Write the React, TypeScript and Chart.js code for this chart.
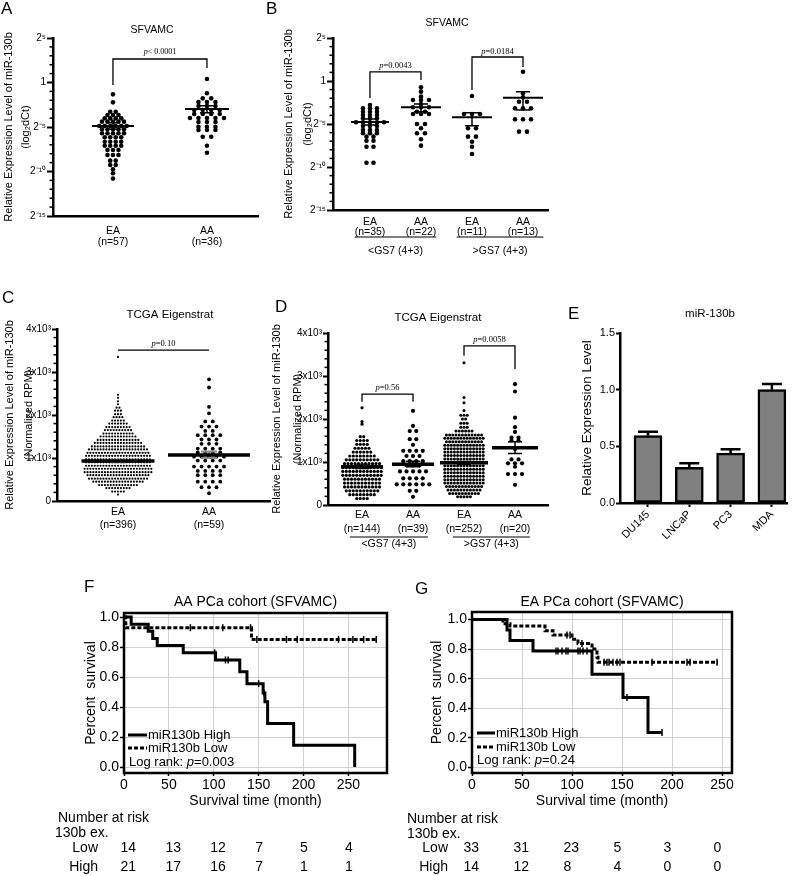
import React, { useEffect, useRef } from 'react';
import { Chart, registerables } from 'chart.js';

Chart.register(...registerables);

const SANS = '"Liberation Sans", Arial, Helvetica, sans-serif';
const SERIF = '"Liberation Serif", "Times New Roman", Times, serif';
Chart.defaults.font.family = SANS;
Chart.defaults.color = '#000';

// ---------------- shared tick labels ----------------
const log2TickValues = [-15, -10, -5, 0, 5];
const log2TickLabels = ['2⁻¹⁵', '2⁻¹⁰', '2⁻⁵', '1', '2⁵'];
const rpmTickValues = [0, 1000, 2000, 3000, 4000];
const rpmTickLabels = ['0', '1x10³', '2x10³', '3x10³', '4x10³'];
const eTickValues = [0, 0.5, 1.0, 1.5];
const kmSurvTicks = [0, 0.2, 0.4, 0.6, 0.8, 1.0];

// ---------------- Panel A : SFVAMC (log2 dCt) ----------------
const aCategories = [['EA', '(n=57)'], ['AA', '(n=36)']];
const aEAValues = [-1.33, -2.23, -3.28, -3.65, -4.03, -4.4, -4.89, -5.26, -5.71, -6.16, -6.65, -7.1, -7.58, -8.15, -8.78, -9.27, -9.75, -10.2, -10.8];
const aEACounts = [1, 1, 2, 3, 4, 5, 6, 5, 5, 4, 4, 4, 3, 3, 2, 2, 1, 1, 1];
const aAAValues = [0.39, -1.21, -1.78, -2.2, -2.64, -3.09, -3.54, -3.99, -4.44, -4.97, -5.34, -6.09, -7.1, -7.89];
const aAACounts = [1, 1, 2, 3, 3, 4, 4, 5, 3, 3, 3, 2, 1, 1];
const aMeans = [-4.89, -2.98];
const aSemHigh = [-4.51, -2.6];
const aSemLow = [-5.26, -3.39];

// ---------------- Panel B : SFVAMC by Gleason ----------------
const bCategories = [['EA', '(n=35)'], ['AA', '(n=22)'], ['EA', '(n=11)'], ['AA', '(n=13)']];
const bGleason = ['<GS7 (4+3)', '>GS7 (4+3)'];
const bEA1Values = [-2.79, -3.18, -3.57, -3.95, -4.34, -4.8, -5.23, -5.7, -6.08, -6.47, -6.94, -7.64, -9.5];
const bEA1Counts = [1, 3, 3, 3, 3, 5, 3, 3, 3, 2, 2, 2, 2];
const bAA1Values = [-0.74, -1.24, -1.82, -2.21, -2.67, -3.06, -3.57, -3.84, -5.0, -5.5, -6.08, -6.78, -7.52];
const bAA1Counts = [1, 1, 1, 3, 1, 3, 2, 3, 2, 1, 2, 1, 1];
const bEA2Values = [-1.74, -3.84, -5.5, -6.47, -7.06, -7.64, -8.49];
const bEA2Counts = [1, 3, 2, 2, 1, 1, 1];
const bAA2Values = [1.08, -1.43, -1.9, -2.41, -3.18, -4.46, -5.89];
const bAA2Counts = [1, 1, 1, 2, 3, 3, 2];
const bMeans = [-4.76, -3.06, -4.22, -1.94];
const bSemHigh = [-4.42, -2.67, -3.68, -1.24];
const bSemLow = [-5.12, -3.57, -5.2, -3.37];

// ---------------- Panel C : TCGA (normalized RPM) ----------------
const cCategories = [['EA', '(n=396)'], ['AA', '(n=59)']];
const cEAValues = [150, 220, 300, 370, 450, 520, 600, 670, 750, 820, 900, 970, 1050, 1120, 1200, 1270, 1350, 1420, 1500, 1570, 1650, 1720, 1800, 1870, 1950, 2020, 2100, 2170, 2250, 2320, 2400, 2470, 3350];
const cEACounts = [1, 5, 9, 14, 18, 21, 22, 24, 24, 23, 23, 23, 23, 22, 21, 19, 17, 15, 13, 11, 10, 9, 7, 5, 4, 3, 3, 2, 1, 1, 1, 1, 1];
const cAAValues = [2830, 2640, 2190, 2040, 1850, 1730, 1630, 1530, 1430, 1330, 1220, 1130, 1030, 940, 800, 700, 600, 450, 320, 180];
const cAACounts = [1, 1, 1, 1, 2, 3, 2, 4, 3, 3, 4, 4, 5, 4, 5, 4, 4, 4, 3, 1];
const cMeans = [930, 1070];
const cSemHigh = [960, 1150];
const cSemLow = [900, 1000];

// ---------------- Panel D : TCGA by Gleason ----------------
const dCategories = [['EA', '(n=144)'], ['AA', '(n=39)'], ['EA', '(n=252)'], ['AA', '(n=20)']];
const dGleason = ['<GS7 (4+3)', '>GS7 (4+3)'];
const dEA1Values = [2260, 1940, 1880, 1590, 1500, 1410, 1320, 1230, 1140, 1050, 960, 870, 780, 690, 600, 510, 420, 330, 240, 150];
const dEA1Counts = [1, 1, 1, 2, 4, 4, 5, 6, 8, 10, 11, 12, 12, 12, 11, 11, 11, 10, 8, 4];
const dAA1Values = [2190, 1840, 1720, 1530, 1400, 1260, 1140, 1020, 920, 780, 620, 480, 330, 190];
const dAA1Counts = [1, 1, 2, 2, 1, 4, 3, 4, 3, 5, 4, 6, 2, 1];
const dEA2Values = [3310, 2500, 2380, 2200, 2090, 2000, 1900, 1810, 1720, 1630, 1550, 1470, 1390, 1310, 1230, 1150, 1070, 990, 910, 830, 750, 670, 590, 510, 430, 350, 270, 190];
const dEA2Counts = [1, 1, 1, 1, 3, 2, 3, 3, 6, 12, 13, 12, 13, 13, 13, 13, 13, 13, 13, 13, 13, 13, 13, 13, 12, 11, 10, 5];
const dAA2Values = [2810, 2640, 2030, 1810, 1700, 1570, 1500, 1300, 1060, 970, 890, 720, 470];
const dAA2Counts = [1, 1, 1, 1, 1, 2, 2, 1, 2, 3, 1, 3, 1];
const dMeans = [890, 950, 980, 1330];
const dSemHigh = [930, 1020, 1010, 1470];
const dSemLow = [850, 890, 950, 1200];

// ---------------- Panel E : cell lines ----------------
const eCells = ['DU145', 'LNCaP', 'PC3', 'MDA'];
const eValues = [0.594, 0.315, 0.44, 1.0];
const eErrors = [0.035, 0.035, 0.035, 0.05];

// ---------------- Panel F : AA KM ----------------
const fHighTimes = [0, 8, 27, 32, 37, 66, 102, 129, 137, 155, 157, 160, 189, 257];
const fHighSurv = [1, 0.952, 0.905, 0.857, 0.81, 0.762, 0.714, 0.635, 0.556, 0.494, 0.435, 0.29, 0.145, 0];
const fHighCensor = [101, 113, 116, 150, 156];
const fLowTimes = [0, 2, 142, 281];
const fLowSurv = [1, 0.929, 0.851, 0.851];
const fLowCensor = [74, 110, 141, 148, 181, 193, 239, 255, 267, 281];
const fRiskTimes = [0, 50, 100, 150, 200, 250];
const fRiskLow = [14, 13, 12, 7, 5, 4];
const fRiskHigh = [21, 17, 16, 7, 1, 1];

// ---------------- Panel G : EA KM ----------------
const gHighTimes = [0, 35, 38, 61, 120, 151, 176, 190];
const gHighSurv = [1, 0.929, 0.857, 0.786, 0.63, 0.472, 0.236, 0.236];
const gHighCensor = [84, 86, 90, 94, 96, 106, 108, 111, 115, 155, 190];
const gLowTimes = [0, 31, 38, 73, 81, 100, 106, 120, 125, 126, 246];
const gLowSurv = [1, 0.97, 0.955, 0.924, 0.895, 0.866, 0.838, 0.8, 0.745, 0.71, 0.71];
const gLowCensor = [95, 98, 110, 132, 135, 137, 141, 145, 148, 180, 215, 218, 245];
const gRiskTimes = [0, 50, 100, 150, 200, 250];
const gRiskLow = [33, 31, 23, 5, 3, 0];
const gRiskHigh = [14, 12, 8, 4, 0, 0];

// ---------------- helpers ----------------
function expandRows(values: number[], counts: number[], pos: number, dx: number) {
  const pts: { x: number; y: number }[] = [];
  values.forEach((v, r) => {
    const n = counts[r];
    for (let i = 0; i < n; i++) pts.push({ x: pos + (i - (n - 1) / 2) * dx, y: v });
  });
  return pts;
}

function survAt(times: number[], surv: number[], t: number) {
  let s = surv[0];
  for (let i = 0; i < times.length; i++) if (times[i] <= t) s = surv[i];
  return s;
}

function text(ctx: any, str: string, x: number, y: number, size: number, align = 'left', family = SANS, style = '') {
  ctx.font = `${style} ${size}px ${family}`.trim();
  ctx.textAlign = align;
  ctx.textBaseline = 'middle';
  ctx.fillStyle = '#000';
  ctx.fillText(str, x, y);
}

function pText(ctx: any, rest: string, cx: number, cy: number, size: number) {
  ctx.font = `italic ${size}px ${SERIF}`;
  const w1 = ctx.measureText('p').width;
  ctx.font = `${size}px ${SERIF}`;
  const w2 = ctx.measureText(rest).width;
  const x0 = cx - (w1 + w2) / 2;
  text(ctx, 'p', x0, cy, size, 'left', SERIF, 'italic');
  text(ctx, rest, x0 + w1, cy, size, 'left', SERIF);
}

function zeroPad(s: any) {
  s.paddingLeft = 0; s.paddingRight = 0; s.paddingTop = 0; s.paddingBottom = 0;
}

// ---------------- panel specs ----------------
const mkGroups = (cats: string[][], vals: number[][], cnts: number[][], means: number[], hi: number[], lo: number[], spacing: number[], radius: number[], half: number[]) =>
  cats.map((label, i) => ({ label, pos: i, values: vals[i], counts: cnts[i], mean: means[i], hi: hi[i], lo: lo[i], spacing: spacing[i], radius: radius[i], half: half[i] }));

const panelA = {
  rect: [0, 0, 265, 252], area: { l: 53, t: 38, r: 258, b: 216 },
  xMin: -0.638, xMax: 1.543, yMin: -15, yMax: 5,
  yTicks: log2TickValues, yTickLabels: log2TickLabels, yTickSize: 10, majorTickLen: 6, minorStep: 1,
  yTitle: ['Relative Expression Level of miR-130b', '(log₂dCt)'], yTitleSize: 11, yTitleLH: 16.5, yTitlePad: 1,
  xLabelSize: 10.5, xLabelLH: 11, xLabelPad: 9.8, axisW: 2.5,
  groups: mkGroups(aCategories, [aEAValues, aAAValues], [aEACounts, aAACounts], aMeans, aSemHigh, aSemLow, [5.5, 8.5], [2.3, 2.3], [21, 22]),
  meanLW: 2, semColor: '#000', semLW: 1.5, capHalf: 7, pSize: 8,
  letter: { text: 'A', x: 1, y: 9 }, title: { text: 'SFVAMC', x: 152, y: 30, size: 10.5 },
  brackets: [{ x1: 0, x2: 1, top: 2.64, left: -0.28, right: 1.63, label: '< 0.0001', labelY: 3.43 }],
  gleason: [] as any[],
};

const panelB = {
  rect: [265, 0, 295, 258], area: { l: 68, t: 38, r: 283, b: 210 },
  xMin: -0.725, xMax: 3.49, yMin: -15, yMax: 5,
  yTicks: log2TickValues, yTickLabels: log2TickLabels, yTickSize: 10, majorTickLen: 6, minorStep: 1,
  yTitle: ['Relative Expression Level of miR-130b', '(log₂dCt)'], yTitleSize: 11, yTitleLH: 19, yTitlePad: 14.5,
  xLabelSize: 10.5, xLabelLH: 10, xLabelPad: 7, axisW: 2.5,
  groups: mkGroups(bCategories, [bEA1Values, bAA1Values, bEA2Values, bAA2Values], [bEA1Counts, bAA1Counts, bEA2Counts, bAA2Counts], bMeans, bSemHigh, bSemLow, [7, 8, 8, 8], [2.3, 2.3, 2.3, 2.3], [19, 20, 20, 20]),
  meanLW: 2, semColor: '#000', semLW: 1.5, capHalf: 7, pSize: 8.5,
  letter: { text: 'B', x: 1, y: 9 }, title: { text: 'SFVAMC', x: 182, y: 23, size: 10.5 },
  brackets: [
    { x1: 0, x2: 1, top: 1.05, left: -1.98, right: 0.12, label: '=0.0043', labelY: 1.74 },
    { x1: 2, x2: 3, top: 2.79, left: -1.05, right: 1.63, label: '=0.0184', labelY: 3.37 },
  ],
  gleason: [
    { x1: -0.3, x2: 1.3, lineY: 237, text: bGleason[0], textY: 251 },
    { x1: 1.7, x2: 3.4, lineY: 237, text: bGleason[1], textY: 251 },
  ],
};

const panelC = {
  rect: [0, 285, 280, 250], area: { l: 57, t: 44, r: 270, b: 216 },
  xMin: -0.67, xMax: 1.67, yMin: 0, yMax: 4000,
  yTicks: rpmTickValues, yTickLabels: rpmTickLabels, yTickSize: 10, majorTickLen: 5, minorStep: 200,
  yTitle: ['Relative Expression Level of miR-130b', '(Normalized RPM)'], yTitleSize: 11, yTitleLH: 19, yTitlePad: 0,
  xLabelSize: 10.5, xLabelLH: 13, xLabelPad: 4.5, axisW: 2.5,
  groups: mkGroups(cCategories, [cEAValues, cAAValues], [cEACounts, cAACounts], cMeans, cSemHigh, cSemLow, [2.9, 7.5], [1.1, 1.9], [36.5, 41]),
  meanLW: 3.5, semColor: '#8a8a8a', semLW: 2, capHalf: 8, pSize: 8.5,
  letter: { text: 'C', x: 2, y: 13 }, title: { text: 'TCGA Eigenstrat', x: 170, y: 30, size: 11.5 },
  brackets: [{ x1: 0, x2: 1, top: 3510, left: 3510, right: 3510, label: '=0.10', labelY: 3650 }],
  gleason: [] as any[],
};

const panelD = {
  rect: [262, 290, 300, 265], area: { l: 66, t: 43, r: 286, b: 215 },
  xMin: -0.667, xMax: 3.647, yMin: 0, yMax: 4000,
  yTicks: rpmTickValues, yTickLabels: rpmTickLabels, yTickSize: 10, majorTickLen: 5, minorStep: 200,
  yTitle: ['Relative Expression Level of miR-130b', '(Normalized RPM)'], yTitleSize: 11, yTitleLH: 21, yTitlePad: 4,
  xLabelSize: 10.5, xLabelLH: 14, xLabelPad: 3.5, axisW: 2.5,
  groups: mkGroups(dCategories, [dEA1Values, dAA1Values, dEA2Values, dAA2Values], [dEA1Counts, dAA1Counts, dEA2Counts, dAA2Counts], dMeans, dSemHigh, dSemLow, [3.5, 6.5, 3.2, 7], [1.6, 2.1, 1.5, 2.1], [21, 21, 24, 23]),
  meanLW: 3.5, semColor: '#000', semLW: 1.5, capHalf: 7, pSize: 8.5,
  letter: { text: 'D', x: 13, y: 17 }, title: { text: 'TCGA Eigenstrat', x: 176, y: 28, size: 11.5 },
  brackets: [
    { x1: 0, x2: 1, top: 2580, left: 2400, right: 2400, label: '=0.56', labelY: 2720 },
    { x1: 2, x2: 3, top: 3700, left: 3470, right: 3160, label: '=0.0058', labelY: 3840 },
  ],
  gleason: [
    { x1: -0.235, x2: 1.29, lineY: 247, text: dGleason[0], textY: 254.5 },
    { x1: 1.78, x2: 3.29, lineY: 247, text: dGleason[1], textY: 254.5 },
  ],
};

const panelE = {
  rect: [565, 295, 235, 250], area: { l: 55, t: 38, r: 222, b: 208 },
  xMin: -0.678, xMax: 3.366,
};

const panelF = {
  rect: [40, 575, 360, 301], area: { l: 84, t: 38, r: 347, b: 198 }, padBottom: 66,
  xMax: 293, yMin: -0.04, yMax: 1.027, yTitlePad: 42.6,
  title: 'AA PCa cohort (SFVAMC)', titleY: 27, letter: { text: 'F', x: 44, y: 12 },
  highTimes: fHighTimes, highSurv: fHighSurv, highCensor: fHighCensor,
  lowTimes: fLowTimes, lowSurv: fLowSurv, lowCensor: fLowCensor,
  riskTimes: fRiskTimes, riskLow: fRiskLow, riskHigh: fRiskHigh,
  legend: { x0: 88, x1: 107, tx: 108, y1: 160, y2: 173, lrX: 89, lrY: 187, p: '=0.003' },
  table: { headX: 18, headY: 243, subX: 15, subY: 258, rowX: 58, lowY: 273, highY: 292, numOffset: -3.5 },
};

const panelG = {
  rect: [400, 575, 400, 301], area: { l: 72, t: 37, r: 332, b: 198 }, padBottom: 66,
  xMax: 260, yMin: -0.037, yMax: 1.05, yTitlePad: 28.6,
  title: 'EA PCa cohort (SFVAMC)', titleY: 27, letter: { text: 'G', x: 15, y: 14 },
  highTimes: gHighTimes, highSurv: gHighSurv, highCensor: gHighCensor,
  lowTimes: gLowTimes, lowSurv: gLowSurv, lowCensor: gLowCensor,
  riskTimes: gRiskTimes, riskLow: gRiskLow, riskHigh: gRiskHigh,
  legend: { x0: 77, x1: 95, tx: 96, y1: 158, y2: 172, lrX: 77, lrY: 185, p: '=0.24' },
  table: { headX: 7, headY: 244, subX: 7, subY: 259, rowX: 48, lowY: 273, highY: 292, numOffset: -8.5 },
};

// ---------------- scatter panels ----------------
function scatterExtras(p: any) {
  return {
    id: 'scatterExtras',
    afterDatasetsDraw(chart: any) {
      const { ctx, chartArea: a } = chart;
      const x = chart.scales.x, y = chart.scales.y;
      ctx.save();
      ctx.strokeStyle = '#000';
      ctx.lineWidth = 1.5;
      for (let v = p.yMin; v <= p.yMax + 1e-9; v += p.minorStep) {
        if (p.yTicks.some((t: number) => Math.abs(t - v) < 1e-6)) continue;
        const py = y.getPixelForValue(v);
        ctx.beginPath(); ctx.moveTo(a.left - 3.5, py); ctx.lineTo(a.left, py); ctx.stroke();
      }
      p.groups.forEach((g: any) => {
        const cx = x.getPixelForValue(g.pos);
        const yh = y.getPixelForValue(g.hi), yl = y.getPixelForValue(g.lo), ym = y.getPixelForValue(g.mean);
        ctx.strokeStyle = p.semColor; ctx.lineWidth = p.semLW;
        ctx.beginPath();
        ctx.moveTo(cx, yh); ctx.lineTo(cx, yl);
        ctx.moveTo(cx - p.capHalf, yh); ctx.lineTo(cx + p.capHalf, yh);
        ctx.moveTo(cx - p.capHalf, yl); ctx.lineTo(cx + p.capHalf, yl);
        ctx.stroke();
        ctx.strokeStyle = '#000'; ctx.lineWidth = p.meanLW;
        ctx.beginPath(); ctx.moveTo(cx - g.half, ym); ctx.lineTo(cx + g.half, ym); ctx.stroke();
      });
      ctx.strokeStyle = '#000'; ctx.lineWidth = 1.3;
      p.brackets.forEach((b: any) => {
        const x1 = x.getPixelForValue(b.x1), x2 = x.getPixelForValue(b.x2), yt = y.getPixelForValue(b.top);
        ctx.beginPath();
        ctx.moveTo(x1, y.getPixelForValue(b.left)); ctx.lineTo(x1, yt); ctx.lineTo(x2, yt); ctx.lineTo(x2, y.getPixelForValue(b.right));
        ctx.stroke();
        pText(ctx, b.label, (x1 + x2) / 2, y.getPixelForValue(b.labelY), p.pSize);
      });
      ctx.restore();
    },
    afterDraw(chart: any) {
      const { ctx } = chart;
      const x = chart.scales.x;
      ctx.save();
      ctx.strokeStyle = '#000'; ctx.lineWidth = 1.2;
      p.gleason.forEach((g: any) => {
        const x1 = x.getPixelForValue(g.x1), x2 = x.getPixelForValue(g.x2);
        ctx.beginPath(); ctx.moveTo(x1, g.lineY); ctx.lineTo(x2, g.lineY); ctx.stroke();
        text(ctx, g.text, (x1 + x2) / 2, g.textY, p.xLabelSize, 'center');
      });
      text(ctx, p.letter.text, p.letter.x, p.letter.y, 17);
      text(ctx, p.title.text, p.title.x, p.title.y, p.title.size, 'center');
      ctx.restore();
    },
  };
}

function makeScatterConfig(p: any) {
  const W = p.rect[2], H = p.rect[3];
  const a = p.area;
  const pxPerX = (a.r - a.l) / (p.xMax - p.xMin);
  const datasets = p.groups.map((g: any) => ({
    data: expandRows(g.values, g.counts, g.pos, g.spacing / pxPerX),
    pointRadius: g.radius,
    pointHoverRadius: g.radius,
    pointBackgroundColor: '#000',
    pointBorderWidth: 0,
    showLine: false,
  }));
  return {
    type: 'scatter',
    data: { datasets },
    options: {
      animation: false, responsive: false, devicePixelRatio: 1, events: [],
      layout: { padding: { left: 0, top: a.t, right: W - a.r, bottom: 0 } },
      plugins: { legend: { display: false }, tooltip: { enabled: false } },
      scales: {
        x: {
          type: 'linear', min: p.xMin, max: p.xMax,
          afterBuildTicks: (s: any) => { s.ticks = p.groups.map((g: any) => ({ value: g.pos })); },
          afterFit: (s: any) => { s.height = H - a.b; zeroPad(s); },
          grid: { display: false, drawTicks: false },
          border: { display: true, color: '#000', width: p.axisW },
          ticks: {
            autoSkip: false, maxRotation: 0, minRotation: 0, padding: p.xLabelPad, color: '#000',
            font: { size: p.xLabelSize, family: SANS, lineHeight: p.xLabelLH + 'px' },
            callback: (v: number) => { const g = p.groups.find((gg: any) => gg.pos === v); return g ? g.label : ''; },
          },
        },
        y: {
          type: 'linear', min: p.yMin, max: p.yMax,
          afterBuildTicks: (s: any) => { s.ticks = p.yTicks.map((v: number) => ({ value: v })); },
          afterFit: (s: any) => { s.width = a.l; zeroPad(s); },
          grid: { display: true, drawOnChartArea: false, drawTicks: true, tickLength: p.majorTickLen, tickWidth: 2, tickColor: '#000', color: '#000' },
          border: { display: true, color: '#000', width: p.axisW },
          ticks: {
            autoSkip: false, padding: 1, color: '#000', font: { size: p.yTickSize, family: SANS },
            callback: (v: number) => { const i = p.yTicks.indexOf(v); return i >= 0 ? p.yTickLabels[i] : ''; },
          },
          title: {
            display: true, text: p.yTitle, color: '#000',
            font: { size: p.yTitleSize, family: SANS, lineHeight: p.yTitleLH + 'px' },
            padding: { top: p.yTitlePad, bottom: 0 },
          },
        },
      },
    },
    plugins: [scatterExtras(p)],
  };
}

// ---------------- bar panel ----------------
function makeBarConfig() {
  const p = panelE;
  const W = p.rect[2], H = p.rect[3];
  const a = p.area;
  return {
    type: 'bar',
    data: {
      datasets: [{
        data: eValues.map((v, i) => ({ x: i, y: v })),
        backgroundColor: '#808080', borderColor: '#000', borderWidth: 2.5, borderSkipped: false, barThickness: 28,
      }],
    },
    options: {
      animation: false, responsive: false, devicePixelRatio: 1, events: [],
      layout: { padding: { left: 0, top: a.t, right: W - a.r, bottom: 0 } },
      plugins: { legend: { display: false }, tooltip: { enabled: false } },
      scales: {
        x: {
          type: 'linear', min: p.xMin, max: p.xMax, offset: false,
          afterBuildTicks: (s: any) => { s.ticks = eCells.map((_, i) => ({ value: i })); },
          afterFit: (s: any) => { s.height = H - a.b; zeroPad(s); },
          grid: { display: true, offset: false, drawOnChartArea: false, drawTicks: true, tickLength: 4, tickWidth: 2, tickColor: '#000', color: '#000' },
          border: { display: true, color: '#000', width: 2.5 },
          ticks: {
            autoSkip: false, minRotation: 45, maxRotation: 45, padding: 1, color: '#000',
            font: { size: 11, family: SANS },
            callback: (v: number) => eCells[v] ?? '',
          },
        },
        y: {
          type: 'linear', min: 0, max: 1.5,
          afterBuildTicks: (s: any) => { s.ticks = eTickValues.map(v => ({ value: v })); },
          afterFit: (s: any) => { s.width = a.l; zeroPad(s); },
          grid: { display: true, drawOnChartArea: false, drawTicks: true, tickLength: 4, tickWidth: 2, tickColor: '#000', color: '#000' },
          border: { display: true, color: '#000', width: 2.5 },
          ticks: { autoSkip: false, padding: 1, color: '#000', font: { size: 11, family: SANS }, callback: (v: number) => v.toFixed(1) },
          title: {
            display: true, text: 'Relative Expression Level', color: '#000',
            font: { size: 13.5, family: SANS, lineHeight: 1.2 }, padding: { top: 13.9, bottom: 0 },
          },
        },
      },
    },
    plugins: [{
      id: 'barExtras',
      afterDatasetsDraw(chart: any) {
        const { ctx } = chart;
        const x = chart.scales.x, y = chart.scales.y;
        ctx.save();
        ctx.strokeStyle = '#000'; ctx.lineWidth = 2.5;
        eValues.forEach((v, i) => {
          const cx = x.getPixelForValue(i);
          const y0 = y.getPixelForValue(v), y1 = y.getPixelForValue(v + eErrors[i]);
          ctx.beginPath(); ctx.moveTo(cx, y0); ctx.lineTo(cx, y1);
          ctx.moveTo(cx - 10, y1); ctx.lineTo(cx + 10, y1); ctx.stroke();
        });
        text(ctx, 'E', 3, 19, 17);
        text(ctx, 'miR-130b', 145, 19, 11.5, 'center');
        ctx.restore();
      },
    }],
  };
}

// ---------------- KM panels ----------------
function kmExtras(p: any) {
  return {
    id: 'kmExtras',
    beforeDatasetsDraw(chart: any) {
      const { ctx, chartArea: a } = chart;
      ctx.save();
      ctx.strokeStyle = '#000'; ctx.lineWidth = 2.5;
      ctx.strokeRect(a.left, a.top, a.right - a.left, a.bottom - a.top);
      ctx.restore();
    },
    afterDraw(chart: any) {
      const { ctx, chartArea: a } = chart;
      const x = chart.scales.x;
      const L = p.legend, T = p.table;
      ctx.save();
      text(ctx, p.letter.text, p.letter.x, p.letter.y, 17);
      text(ctx, p.title, (a.left + a.right) / 2, p.titleY, 14, 'center');
      // legend
      ctx.strokeStyle = '#000'; ctx.lineWidth = 3;
      ctx.beginPath(); ctx.moveTo(L.x0, L.y1); ctx.lineTo(L.x1, L.y1); ctx.stroke();
      ctx.setLineDash([4, 2]);
      ctx.beginPath(); ctx.moveTo(L.x0, L.y2); ctx.lineTo(L.x1, L.y2); ctx.stroke();
      ctx.setLineDash([]);
      text(ctx, 'miR130b High', L.tx, L.y1, 13);
      text(ctx, 'miR130b Low', L.tx, L.y2, 13);
      ctx.font = `13px ${SANS}`;
      const w1 = ctx.measureText('Log rank: ').width;
      ctx.font = `italic 13px ${SANS}`;
      const w2 = ctx.measureText('p').width;
      text(ctx, 'Log rank: ', L.lrX, L.lrY, 13);
      text(ctx, 'p', L.lrX + w1, L.lrY, 13, 'left', SANS, 'italic');
      text(ctx, L.p, L.lrX + w1 + w2, L.lrY, 13);
      // number at risk
      text(ctx, 'Number at risk', T.headX, T.headY, 14);
      text(ctx, '130b ex.', T.subX, T.subY, 14);
      text(ctx, 'Low', T.rowX, T.lowY, 14, 'right');
      text(ctx, 'High', T.rowX, T.highY, 14, 'right');
      p.riskTimes.forEach((t: number, i: number) => {
        const px = x.getPixelForValue(t) + T.numOffset;
        text(ctx, String(p.riskLow[i]), px, T.lowY, 14);
        text(ctx, String(p.riskHigh[i]), px, T.highY, 14);
      });
      ctx.restore();
    },
  };
}

function makeKMConfig(p: any) {
  const W = p.rect[2], H = p.rect[3];
  const a = p.area;
  const steps = (t: number[], s: number[]) => t.map((tt, i) => ({ x: tt, y: s[i] }));
  const cens = (t: number[], s: number[], c: number[]) => c.map(tc => ({ x: tc, y: survAt(t, s, tc) }));
  const censorStyle = { showLine: false, pointStyle: 'line', pointRotation: 90, pointRadius: 3.5, pointHoverRadius: 3.5, pointBorderColor: '#000', pointBorderWidth: 1.5 };
  return {
    type: 'line',
    data: {
      datasets: [
        { data: steps(p.lowTimes, p.lowSurv), stepped: 'before', borderColor: '#000', borderWidth: 3, borderDash: [4, 2], pointRadius: 0, fill: false },
        { data: steps(p.highTimes, p.highSurv), stepped: 'before', borderColor: '#000', borderWidth: 3, pointRadius: 0, fill: false },
        { data: cens(p.lowTimes, p.lowSurv, p.lowCensor), ...censorStyle },
        { data: cens(p.highTimes, p.highSurv, p.highCensor), ...censorStyle },
      ],
    },
    options: {
      animation: false, responsive: false, devicePixelRatio: 1, events: [],
      layout: { padding: { left: 0, top: a.t, right: W - a.r, bottom: p.padBottom } },
      plugins: { legend: { display: false }, tooltip: { enabled: false } },
      scales: {
        x: {
          type: 'linear', min: 0, max: p.xMax,
          afterBuildTicks: (s: any) => { s.ticks = p.riskTimes.map((v: number) => ({ value: v })); },
          afterFit: (s: any) => { s.height = H - p.padBottom - a.b; zeroPad(s); },
          grid: { color: '#d2d2d2', lineWidth: 1, drawTicks: true, tickLength: 3, tickColor: '#000', tickWidth: 1.5 },
          border: { display: false },
          ticks: { autoSkip: false, maxRotation: 0, padding: 0.6, color: '#000', font: { size: 14, family: SANS }, callback: (v: number) => String(v) },
          title: { display: true, text: 'Survival time (month)', color: '#000', font: { size: 14, family: SANS, lineHeight: 1.2 }, padding: { top: 0, bottom: 0 } },
        },
        y: {
          type: 'linear', min: p.yMin, max: p.yMax,
          afterBuildTicks: (s: any) => { s.ticks = kmSurvTicks.map(v => ({ value: v })); },
          afterFit: (s: any) => { s.width = a.l; zeroPad(s); },
          grid: { color: '#d2d2d2', lineWidth: 1, drawTicks: true, tickLength: 4, tickColor: '#000', tickWidth: 1.5 },
          border: { display: false },
          ticks: { autoSkip: false, padding: 1, color: '#000', font: { size: 14, family: SANS }, callback: (v: number) => v.toFixed(1) },
          title: { display: true, text: 'Percent  survival', color: '#000', font: { size: 14, family: SANS, lineHeight: 1.2 }, padding: { top: p.yTitlePad, bottom: 0 } },
        },
      },
    },
    plugins: [kmExtras(p)],
  };
}

// ---------------- React ----------------
function ChartCanvas({ rect, make }: { rect: number[]; make: () => any }) {
  const ref = useRef<HTMLCanvasElement>(null);
  useEffect(() => {
    const chart = new Chart(ref.current as HTMLCanvasElement, make());
    return () => chart.destroy();
  }, []);
  return (
    <canvas
      ref={ref}
      width={rect[2]}
      height={rect[3]}
      style={{ position: 'absolute', left: rect[0], top: rect[1], width: rect[2], height: rect[3] }}
    />
  );
}

export default function App() {
  return (
    <div style={{ position: 'absolute', left: 0, top: 0, width: 800, height: 876, background: '#fff', overflow: 'hidden' }}>
      <ChartCanvas rect={panelA.rect} make={() => makeScatterConfig(panelA)} />
      <ChartCanvas rect={panelB.rect} make={() => makeScatterConfig(panelB)} />
      <ChartCanvas rect={panelC.rect} make={() => makeScatterConfig(panelC)} />
      <ChartCanvas rect={panelD.rect} make={() => makeScatterConfig(panelD)} />
      <ChartCanvas rect={panelE.rect} make={() => makeBarConfig()} />
      <ChartCanvas rect={panelF.rect} make={() => makeKMConfig(panelF)} />
      <ChartCanvas rect={panelG.rect} make={() => makeKMConfig(panelG)} />
    </div>
  );
}
